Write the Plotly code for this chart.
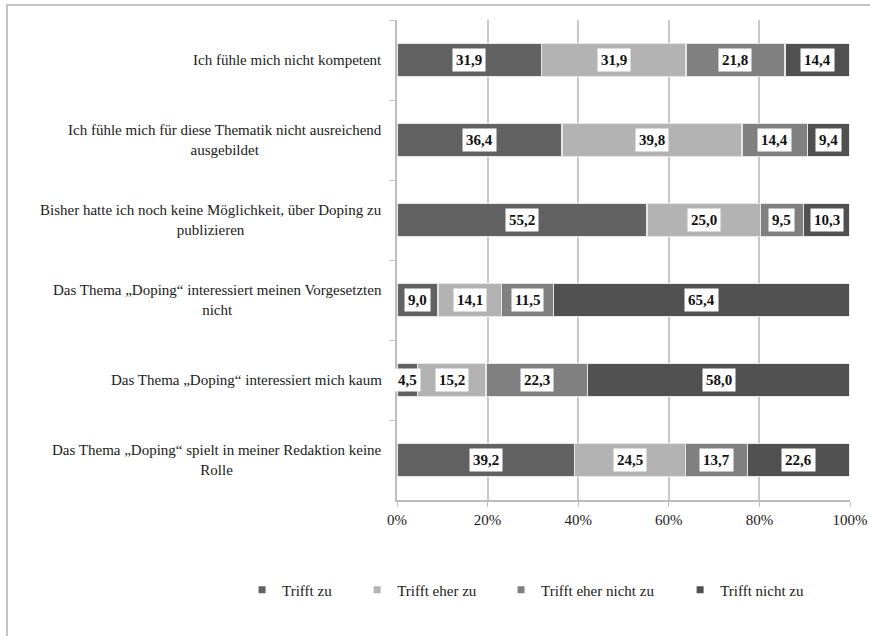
import plotly.graph_objects as go

categories = [
    "Ich fühle mich nicht kompetent",
    "Ich fühle mich für diese Thematik nicht ausreichend<br>ausgebildet",
    "Bisher hatte ich noch keine Möglichkeit, über Doping zu<br>publizieren",
    "Das Thema „Doping“ interessiert meinen Vorgesetzten<br>nicht",
    "Das Thema „Doping“ interessiert mich kaum",
    "Das Thema „Doping“ spielt in meiner Redaktion keine<br>Rolle",
]
series_names = ["Trifft zu", "Trifft eher zu", "Trifft eher nicht zu", "Trifft nicht zu"]
trifft_zu = [31.9, 36.4, 55.2, 9.0, 4.5, 39.2]
trifft_eher_zu = [31.9, 39.8, 25.0, 14.1, 15.2, 24.5]
trifft_eher_nicht_zu = [21.8, 14.4, 9.5, 11.5, 22.3, 13.7]
trifft_nicht_zu = [14.4, 9.4, 10.3, 65.4, 58.0, 22.6]
x_ticks = [0, 20, 40, 60, 80, 100]
x_tick_labels = ["0%", "20%", "40%", "60%", "80%", "100%"]

series_values = [trifft_zu, trifft_eher_zu, trifft_eher_nicht_zu, trifft_nicht_zu]
colors = ["#626262", "#b3b3b3", "#808080", "#505050"]
legend_ids = ["legend", "legend2", "legend3", "legend4"]
legend_x = [-0.342, -0.088, 0.2296, 0.625]

FONT = "Liberation Serif, Times New Roman, serif"

fig = go.Figure()
for name, vals, col in zip(series_names, series_values, colors):
    fig.add_trace(go.Bar(
        y=categories, x=vals, name=name, orientation="h",
        marker=dict(color=col, line=dict(color="#e6e6e6", width=1.5)),
        showlegend=False, hoverinfo="x+name",
    ))

# legend entries with small square swatches
for name, col, lid in zip(series_names, colors, legend_ids):
    fig.add_trace(go.Scatter(
        x=[None], y=[None], mode="markers", name=name,
        marker=dict(symbol="square", size=7, color=col),
        legend=lid, showlegend=True,
    ))

annotations = []
# value labels in white boxes, centred on each segment
for r, cat in enumerate(categories):
    start = 0.0
    for vals in series_values:
        v = vals[r]
        annotations.append(dict(
            x=start + v / 2, y=cat, xref="x", yref="y",
            text="<b>" + f"{v:.1f}".replace(".", ",") + "</b>",
            showarrow=False, bgcolor="white", borderpad=3,
            font=dict(family=FONT, size=15, color="#111111"),
        ))
        start += v
    # category labels, centred lines, right-aligned block
    annotations.append(dict(
        x=0, y=cat, xref="paper", yref="y", xanchor="right", xshift=-13,
        text=cat, align="center", showarrow=False,
        font=dict(family=FONT, size=15, color="#1a1a1a"),
    ))

legend_common = dict(
    orientation="h", y=-0.1875, yanchor="middle", xanchor="left",
    font=dict(family=FONT, size=15, color="#1a1a1a"),
    bgcolor="rgba(0,0,0,0)", itemwidth=30,
)
layout_legends = {}
for lid, lx in zip(legend_ids, legend_x):
    layout_legends[lid] = dict(legend_common, x=lx)

fig.update_layout(
    width=870, height=636,
    margin=dict(l=397, r=20, t=20, b=136, autoexpand=False),
    paper_bgcolor="white", plot_bgcolor="white",
    barmode="stack", bargap=0.59,
    font=dict(family=FONT, size=15, color="#1a1a1a"),
    annotations=annotations,
    shapes=[dict(
        type="rect", xref="paper", yref="paper",
        x0=-0.861, x1=1.2, y0=-0.5, y1=1.031,
        line=dict(color="#c4c4c4", width=2), layer="below",
    )],
    **layout_legends,
)
fig.update_xaxes(
    range=[0, 100], tickmode="array", tickvals=x_ticks, ticktext=x_tick_labels,
    showgrid=True, gridcolor="#c8c8c8", gridwidth=1.5,
    showline=True, linecolor="#bdbdbd", linewidth=1.5,
    ticks="outside", ticklen=5, tickcolor="#bdbdbd",
    tickfont=dict(family=FONT, size=15, color="#1a1a1a"),
    zeroline=False, fixedrange=True, automargin=False,
)
fig.update_yaxes(
    autorange="reversed", showticklabels=False,
    showline=True, linecolor="#bdbdbd", linewidth=1.5,
    ticks="outside", ticklen=5, tickcolor="#bdbdbd", tickson="boundaries",
    showgrid=False, fixedrange=True, automargin=False,
)

fig.write_html("out.html")
